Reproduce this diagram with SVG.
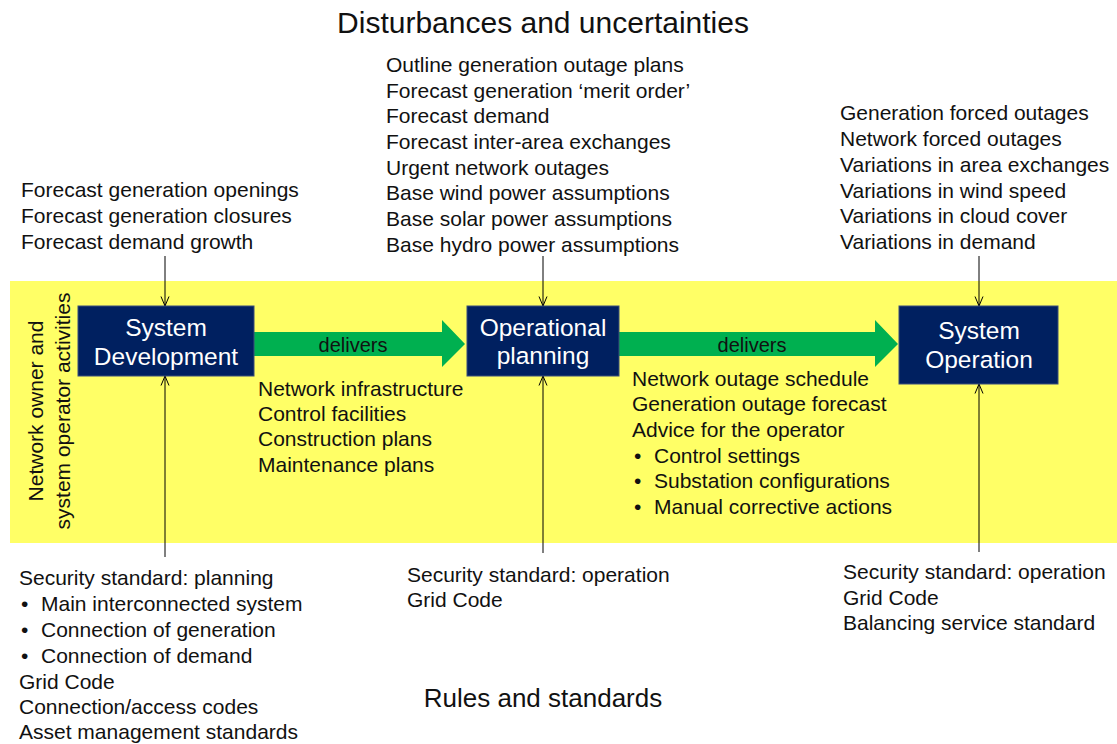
<svg xmlns="http://www.w3.org/2000/svg" width="1117" height="744" viewBox="0 0 1117 744">
  <defs>
    <style>
      text { font-family: "Liberation Sans", Arial, sans-serif; fill: #111; }
      .body { font-size: 21px; }
      .heading { font-size: 30px; text-anchor: middle; }
      .box { fill: #002060; stroke: #3a4f7a; stroke-width: 1; }
      .boxlabel { font-size: 24.5px; fill: #ffffff; text-anchor: middle; }
      .flow { fill: #00b050; }
      .flowlabel { font-size: 20px; fill: #111; text-anchor: middle; }
      .link { stroke: #000; stroke-width: 1; fill: none; marker-end: url(#chevron); }
    </style>
    <marker id="chevron" viewBox="0 0 10 10" refX="10" refY="5" markerWidth="10" markerHeight="10" markerUnits="userSpaceOnUse" orient="auto">
      <path d="M0.5,1 L10,5 L0.5,9" fill="none" stroke="#000" stroke-width="1"/>
    </marker>
  </defs>

  <rect width="1117" height="744" fill="#ffffff"/>

  <!-- activity band -->
  <rect id="band" x="10" y="281" width="1107" height="262" fill="#ffff66"/>
  <text class="body" transform="translate(43,411) rotate(-90)" text-anchor="middle">Network owner and</text>
  <text class="body" transform="translate(70,411) rotate(-90)" text-anchor="middle">system operator activities</text>

  <!-- headings -->
  <text class="heading" x="543" y="33">Disturbances and uncertainties</text>
  <text class="heading" x="543" y="707" style="font-size:26px">Rules and standards</text>

  <!-- connectors -->
  <g id="connectors">
    <path class="flow" d="M254,332 L442,332 L442,320 L465,344 L442,367 L442,356 L254,356 Z"/>
    <text class="flowlabel" x="353" y="352">delivers</text>
    <path class="flow" d="M619,332 L875,332 L875,320 L898,344 L875,367 L875,356 L619,356 Z"/>
    <text class="flowlabel" x="752" y="352">delivers</text>

    <line class="link" x1="165" y1="256" x2="165" y2="306"/>
    <line class="link" x1="165" y1="557" x2="165" y2="376"/>
    <line class="link" x1="543" y1="256" x2="543" y2="306"/>
    <line class="link" x1="543" y1="553" x2="543" y2="376"/>
    <line class="link" x1="979" y1="256" x2="979" y2="306"/>
    <line class="link" x1="979" y1="552" x2="979" y2="384"/>
  </g>

  <!-- activity nodes -->
  <g id="system-development">
    <rect class="box" x="78" y="306" width="176" height="70"/>
    <text class="boxlabel" x="166" y="336">System</text>
    <text class="boxlabel" x="166" y="365">Development</text>
  </g>
  <g id="operational-planning">
    <rect class="box" x="467" y="306" width="152" height="70"/>
    <text class="boxlabel" x="543" y="336">Operational</text>
    <text class="boxlabel" x="543" y="364">planning</text>
  </g>
  <g id="system-operation">
    <rect class="box" x="899" y="306" width="159" height="78"/>
    <text class="boxlabel" x="979" y="339">System</text>
    <text class="boxlabel" x="979" y="368">Operation</text>
  </g>

  <!-- disturbances feeding each activity -->
  <g id="dev-disturbances">
    <text class="body" x="21" y="197">Forecast generation openings</text>
    <text class="body" x="21" y="223">Forecast generation closures</text>
    <text class="body" x="21" y="249">Forecast demand growth</text>
  </g>
  <g id="planning-disturbances">
    <text class="body" x="386" y="72">Outline generation outage plans</text>
    <text class="body" x="386" y="98">Forecast generation ‘merit order’</text>
    <text class="body" x="386" y="123">Forecast demand</text>
    <text class="body" x="386" y="149">Forecast inter-area exchanges</text>
    <text class="body" x="386" y="175">Urgent network outages</text>
    <text class="body" x="386" y="200">Base wind power assumptions</text>
    <text class="body" x="386" y="226">Base solar power assumptions</text>
    <text class="body" x="386" y="252">Base hydro power assumptions</text>
  </g>
  <g id="operation-disturbances">
    <text class="body" x="840" y="120">Generation forced outages</text>
    <text class="body" x="840" y="146">Network forced outages</text>
    <text class="body" x="840" y="172">Variations in area exchanges</text>
    <text class="body" x="840" y="198">Variations in wind speed</text>
    <text class="body" x="840" y="223">Variations in cloud cover</text>
    <text class="body" x="840" y="249">Variations in demand</text>
  </g>

  <!-- deliverables -->
  <g id="dev-deliverables">
    <text class="body" x="258" y="396">Network infrastructure</text>
    <text class="body" x="258" y="421">Control facilities</text>
    <text class="body" x="258" y="446">Construction plans</text>
    <text class="body" x="258" y="472">Maintenance plans</text>
  </g>
  <g id="planning-deliverables">
    <text class="body" x="632" y="386">Network outage schedule</text>
    <text class="body" x="632" y="411">Generation outage forecast</text>
    <text class="body" x="632" y="437">Advice for the operator</text>
    <text class="body" x="634" y="463">•</text><text class="body" x="654" y="463">Control settings</text>
    <text class="body" x="634" y="488">•</text><text class="body" x="654" y="488">Substation configurations</text>
    <text class="body" x="634" y="514">•</text><text class="body" x="654" y="514">Manual corrective actions</text>
  </g>

  <!-- rules and standards -->
  <g id="dev-standards">
    <text class="body" x="19" y="585">Security standard: planning</text>
    <text class="body" x="21" y="611">•</text><text class="body" x="41" y="611">Main interconnected system</text>
    <text class="body" x="21" y="637">•</text><text class="body" x="41" y="637">Connection of generation</text>
    <text class="body" x="21" y="663">•</text><text class="body" x="41" y="663">Connection of demand</text>
    <text class="body" x="19" y="689">Grid Code</text>
    <text class="body" x="19" y="714">Connection/access codes</text>
    <text class="body" x="19" y="739">Asset management standards</text>
  </g>
  <g id="planning-standards">
    <text class="body" x="407" y="582">Security standard: operation</text>
    <text class="body" x="407" y="607">Grid Code</text>
  </g>
  <g id="operation-standards">
    <text class="body" x="843" y="579">Security standard: operation</text>
    <text class="body" x="843" y="605">Grid Code</text>
    <text class="body" x="843" y="630">Balancing service standard</text>
  </g>
</svg>
